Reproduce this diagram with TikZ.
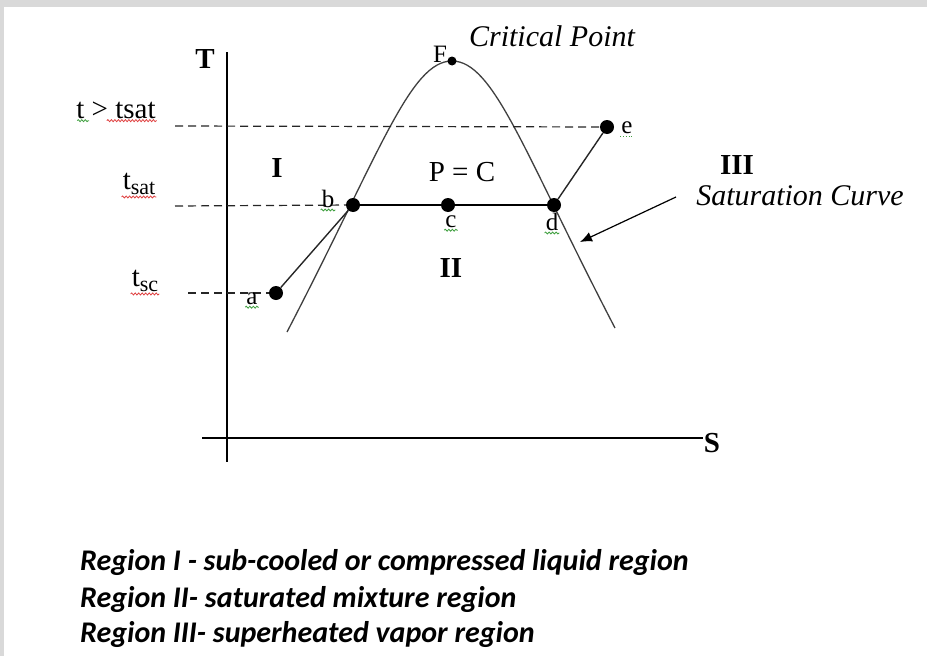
\documentclass[tikz,border=0pt]{standalone}
\usepackage{fontspec}
\setmainfont{Liberation Serif}
\newfontfamily\notefont{Carlito}
\usetikzlibrary{arrows.meta,calc,decorations.pathmorphing}
\definecolor{framegrey}{HTML}{D9D9D9}
\definecolor{domegrey}{HTML}{404040}
\definecolor{squigred}{HTML}{E04040}
\definecolor{squiggreen}{HTML}{40A040}
\newcommand{\lowsub}[1]{{\fontsize{22}{24}\selectfont\raisebox{-5pt}{#1}}}
\tikzset{
  >=Latex,
  axis/.style={line width=1.6pt,draw=black},
  dome/.style={line width=1.3pt,draw=domegrey},
  guide/.style={line width=1.2pt,dash pattern=on 8pt off 5pt,draw=black!85},
  proc/.style={line width=1.4pt,draw=black!85},
  dot/.style={circle,fill=black,inner sep=0pt,minimum size=14pt},
  lbl/.style={font=\fontsize{29}{31}\selectfont,inner sep=1pt},
  ptlbl/.style={font=\fontsize{25}{27}\selectfont,inner sep=1pt},
  roman/.style={font=\fontsize{29}{31}\selectfont\bfseries,inner sep=1pt},
  remark/.style={font=\fontsize{30}{32}\selectfont\itshape,inner sep=1pt},
  note/.style={font=\notefont\fontsize{30}{32}\selectfont\bfseries\itshape,anchor=west,inner sep=0pt},
  squig/.style={decorate,decoration={snake,amplitude=1pt,segment length=3.5pt},line width=0.8pt,draw=#1},
}
\begin{document}
\begin{tikzpicture}[x=1pt,y=-1pt]
  % frame
  \fill[framegrey] (0,0) rectangle (927,656);
  \fill[white] (4,7) rectangle (927,656);
  \useasboundingbox (0,0) rectangle (927,656);

  % axes
  \coordinate (ttop) at (227,52);
  \coordinate (tbot) at (227,462);
  \coordinate (sl) at (202,438);
  \coordinate (sr) at (703,438);
  \draw[axis] (ttop) -- (tbot);
  \draw[axis] (sl) -- (sr);
  \node[roman] (tlab) at (205,59) {T};
  \node[roman] (slab) at (712,443) {S};

  % saturation dome
  \draw[dome] (287,332) .. controls (380,153) and (410,61) .. (452,61)
                        .. controls (494,61) and (524,153) .. (615,328);

  % state points
  \node[dot] (a) at (276,293) {};
  \node[dot] (b) at (353,205) {};
  \node[dot] (c) at (448,205) {};
  \node[dot] (d) at (554,205) {};
  \node[dot] (e) at (607,127) {};
  \node[dot,minimum size=9pt] (F) at (452,61) {};

  % temperature levels
  \coordinate (gsup) at (175,126);
  \coordinate (gsat) at (175,206);
  \coordinate (gsc) at (188,293);
  \draw[guide] (gsup) -- (e);
  \draw[guide] (gsat) -- (b);
  \draw[guide] (gsc) -- (a);

  % process line
  \draw[proc] (a) -- (b);
  \draw[line width=2.6pt] (b) -- (c) -- (d);
  \draw[proc] (d) -- (e);

  % level labels
  \node[lbl] (lsup) at (116,110) {t > tsat};
  \node[lbl] (lsat) at (139,184) {t\lowsub{sat}};
  \node[lbl] (lsc) at (145,281) {t\lowsub{sc}};

  % point labels
  \node[ptlbl] (la) at (252,299) {a};
  \node[ptlbl] (lb) at (328,199) {b};
  \node[ptlbl] (lc) at (451,222) {c};
  \node[ptlbl] (ld) at (552,222) {d};
  \node[ptlbl] (le) at (627,128) {e};
  \node[ptlbl] (lF) at (440,54) {F};

  % regions and notes
  \node[roman] (r1) at (277,168) {I};
  \node[roman] (r2) at (451,268) {II};
  \node[roman] (r3) at (737,165) {III};
  \node[lbl] (pc) at (462,172) {P = C};
  \node[remark] (crit) at (552,36) {Critical Point};
  \node[remark] (satc) at (800,196) {Saturation Curve};
  \coordinate (arrtail) at (676,197);
  \coordinate (arrhead) at (580,242);
  \draw[->,line width=1.2pt,>={Latex[length=12pt,width=10pt]}] (arrtail) -- (arrhead);

  % spelling marks
  \draw[squig=squiggreen] ($(lsup.south west)+(2,1)$) -- +(12,0);
  \draw[squig=squigred] ($(lsup.south east)+(-50,1)$) -- ($(lsup.south east)+(0,1)$);
  \draw[squig=squigred] ($(lsat.south west)+(0,1)$) -- ($(lsat.south east)+(0,1)$);
  \draw[squig=squigred] ($(lsc.south west)+(0,1)$) -- ($(lsc.south east)+(0,1)$);
  \foreach \p in {la,lb,lc,ld}
    \draw[squig=squiggreen] ($(\p.south west)+(0,1)$) -- ($(\p.south east)+(0,1)$);
  \draw[squiggreen,line width=0.8pt,dotted] ($(le.south west)+(0,1)$) -- ($(le.south east)+(0,1)$);

  % region legend
  \node[note] (n1) at (80,562) {Region I - sub-cooled or compressed liquid region};
  \node[note] (n2) at (80,599) {Region II- saturated mixture region};
  \node[note] (n3) at (80,634) {Region III- superheated vapor region};
\end{tikzpicture}
\end{document}
